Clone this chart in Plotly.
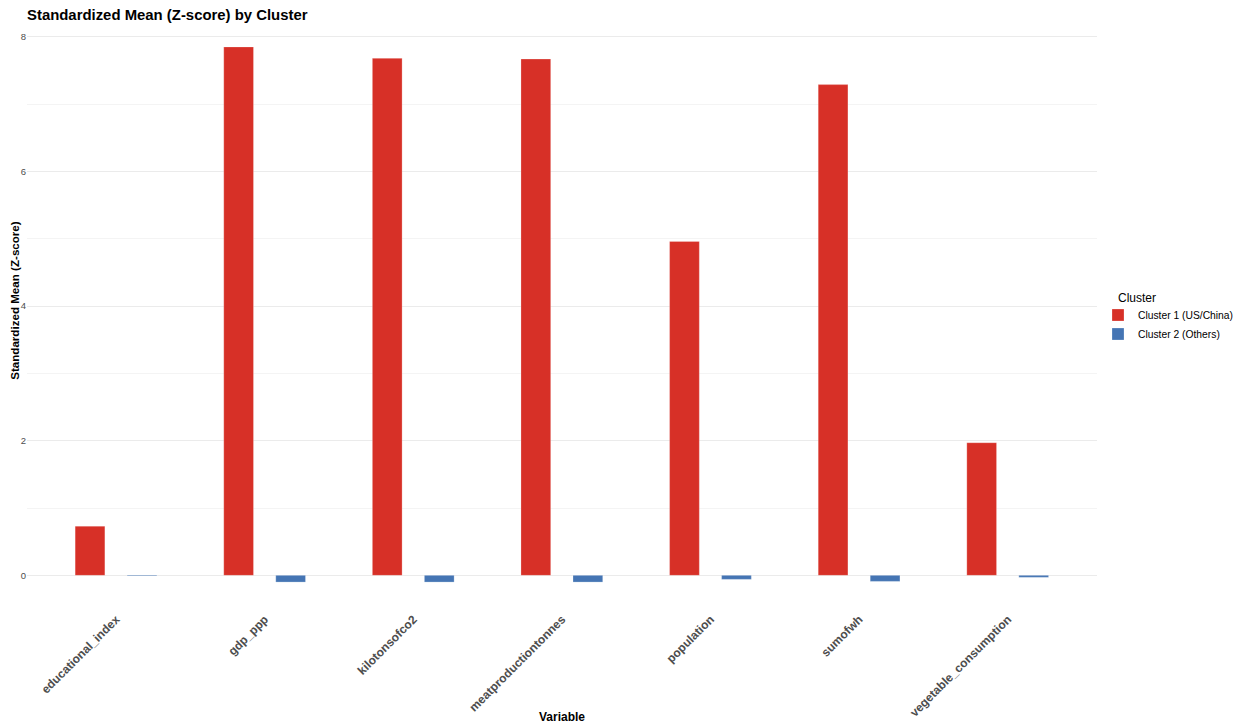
import plotly.graph_objects as go

# values
variables = ["educational_index", "gdp_ppp", "kilotonsofco2", "meatproductiontonnes",
             "population", "sumofwh", "vegetable_consumption"]
cluster1 = [0.73, 7.85, 7.68, 7.67, 4.96, 7.29, 1.97]
cluster2 = [-0.01, -0.10, -0.10, -0.10, -0.06, -0.09, -0.03]
cluster_names = ["Cluster 1 (US/China)", "Cluster 2 (Others)"]
colors = ["#D73027", "#4575B4"]

FONT = "Liberation Sans, Arial, sans-serif"

# page body has an 8px margin, so the figure is a bit smaller than the window
W, H = 1233, 716

fig = go.Figure()
fig.add_trace(go.Bar(x=variables, y=cluster1, name=cluster_names[0],
                     marker_color=colors[0], width=0.2, offset=-0.276,
                     marker_line=dict(color="rgba(255,255,255,0.4)", width=0.6)))
fig.add_trace(go.Bar(x=variables, y=cluster2, name=cluster_names[1],
                     marker_color=colors[1], width=0.2, offset=0.074,
                     marker_line=dict(color="rgba(255,255,255,0.4)", width=0.6)))

fig.update_layout(
    width=W, height=H,
    barmode="overlay",
    plot_bgcolor="white", paper_bgcolor="white",
    margin=dict(l=19, r=144, t=12, b=115),
    font=dict(family=FONT, color="#4D4D4D"),
    title=dict(text="<b>Standardized Mean (Z-score) by Cluster</b>",
               x=19 / W, xref="container", xanchor="left",
               y=1 - 1.5 / H, yref="container", yanchor="top",
               pad=dict(t=0, b=0, l=0, r=0),
               font=dict(size=14.9, color="black", family=FONT)),
    legend=dict(xref="container", yref="container",
                x=1090 / W, xanchor="left", y=1 - 316.5 / H, yanchor="middle",
                font=dict(size=10.3, color="black"),
                itemwidth=30, tracegroupgap=0),
    showlegend=True,
)

fig.update_xaxes(
    type="category", range=[-0.6, 6.6],
    showgrid=False, zeroline=False, showline=False,
    tickangle=-45, ticks="",
    tickfont=dict(size=12, color="#4D4D4D", family=FONT, weight="bold"),
    automargin=False,
)
fig.update_yaxes(
    range=[-0.5, 8.25], dtick=2, tick0=0,
    showgrid=True, gridcolor="#EBEBEB", gridwidth=1,
    zeroline=True, zerolinecolor="#EBEBEB", zerolinewidth=1,
    minor=dict(dtick=1, tick0=0, showgrid=True, gridcolor="#F4F4F4", gridwidth=0.6),
    showline=False, ticks="",
    tickfont=dict(size=9.5, color="#4D4D4D", family=FONT),
    automargin=False,
)

fig.add_annotation(text="Cluster", xref="paper", yref="paper",
                   x=(1108 - 19) / 1070, y=(601 - 290) / 589, xanchor="left", yanchor="middle",
                   showarrow=False, font=dict(size=12, color="black", family=FONT))
fig.add_annotation(text="<b>Variable</b>", xref="paper", yref="paper",
                   x=0.5, y=-(709 - 601) / 589, xanchor="center", yanchor="middle",
                   showarrow=False, font=dict(size=12, color="black", family=FONT))
fig.add_annotation(text="<b>Standardized Mean (Z-score)</b>", xref="paper", yref="paper",
                   x=(5.8 - 19) / 1070, y=(601 - 292) / 589, xanchor="center", yanchor="middle",
                   textangle=-90, showarrow=False,
                   font=dict(size=11.6, color="black", family=FONT))

fig.write_html("out.html")
